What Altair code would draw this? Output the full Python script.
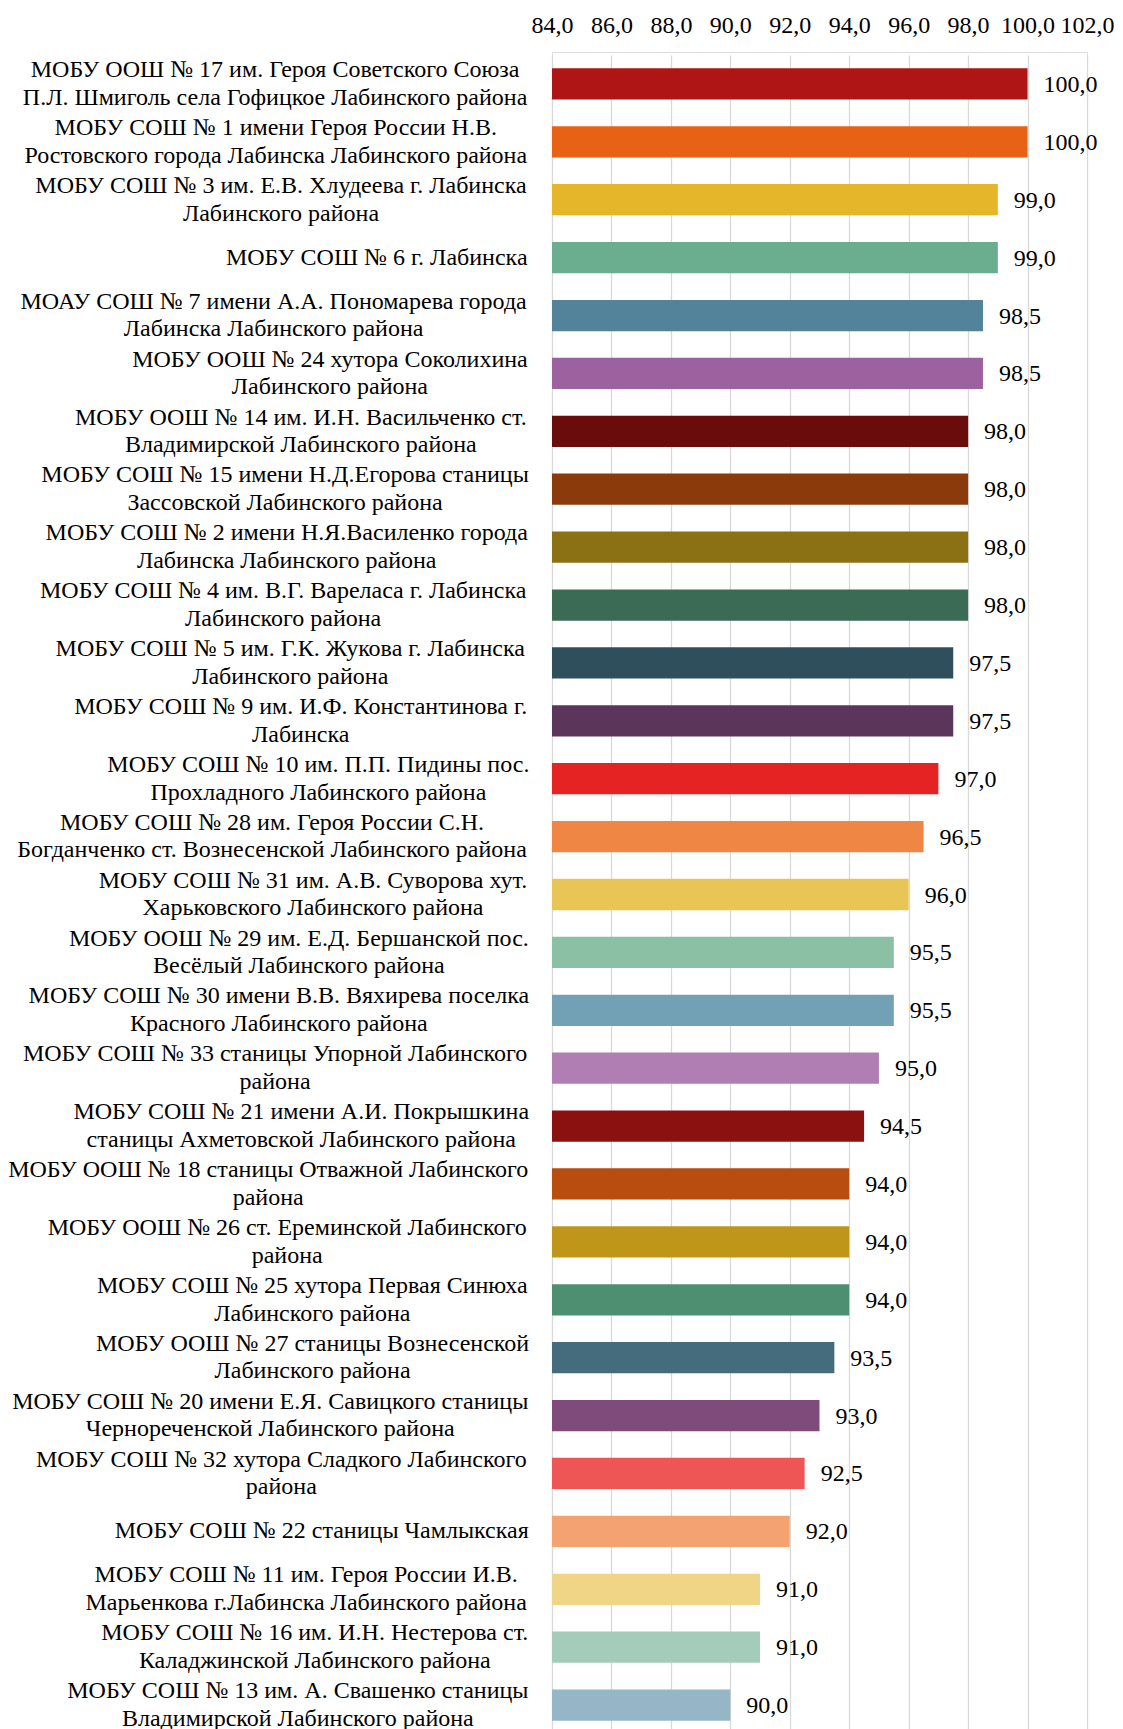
import altair as alt
import pandas as pd

labels = [
    "МОБУ ООШ № 17 им. Героя Советского Союза\nП.Л. Шмиголь села Гофицкое Лабинского района",
    "МОБУ СОШ № 1 имени Героя России Н.В.\nРостовского города Лабинска Лабинского района",
    "МОБУ СОШ № 3 им. Е.В. Хлудеева г. Лабинска\nЛабинского района",
    "МОБУ СОШ № 6 г. Лабинска",
    "МОАУ СОШ № 7 имени А.А. Пономарева города\nЛабинска Лабинского района",
    "МОБУ ООШ № 24 хутора Соколихина\nЛабинского района",
    "МОБУ ООШ № 14 им. И.Н. Васильченко ст.\nВладимирской Лабинского района",
    "МОБУ СОШ № 15 имени Н.Д.Егорова станицы\nЗассовской Лабинского района",
    "МОБУ СОШ № 2 имени Н.Я.Василенко города\nЛабинска Лабинского района",
    "МОБУ СОШ № 4 им. В.Г. Вареласа г. Лабинска\nЛабинского района",
    "МОБУ СОШ № 5 им. Г.К. Жукова г. Лабинска\nЛабинского района",
    "МОБУ СОШ № 9 им. И.Ф. Константинова г.\nЛабинска",
    "МОБУ СОШ № 10 им. П.П. Пидины пос.\nПрохладного Лабинского района",
    "МОБУ СОШ № 28 им. Героя России С.Н.\nБогданченко ст. Вознесенской Лабинского района",
    "МОБУ СОШ № 31 им. А.В. Суворова хут.\nХарьковского Лабинского района",
    "МОБУ ООШ № 29 им. Е.Д. Бершанской пос.\nВесёлый Лабинского района",
    "МОБУ СОШ № 30 имени В.В. Вяхирева поселка\nКрасного Лабинского района",
    "МОБУ СОШ № 33 станицы Упорной Лабинского\nрайона",
    "МОБУ СОШ № 21 имени А.И. Покрышкина\nстаницы Ахметовской Лабинского района",
    "МОБУ ООШ № 18 станицы Отважной Лабинского\nрайона",
    "МОБУ ООШ № 26 ст. Ереминской Лабинского\nрайона",
    "МОБУ СОШ № 25 хутора Первая Синюха\nЛабинского района",
    "МОБУ ООШ № 27 станицы Вознесенской\nЛабинского района",
    "МОБУ СОШ № 20 имени Е.Я. Савицкого станицы\nЧернореченской Лабинского района",
    "МОБУ СОШ № 32 хутора Сладкого Лабинского\nрайона",
    "МОБУ СОШ № 22 станицы Чамлыкская",
    "МОБУ СОШ № 11 им. Героя России И.В.\nМарьенкова г.Лабинска Лабинского района",
    "МОБУ СОШ № 16 им. И.Н. Нестерова ст.\nКаладжинской Лабинского района",
    "МОБУ СОШ № 13 им. А. Свашенко станицы\nВладимирской Лабинского района",
]

values = [100.0, 100.0, 99.0, 99.0, 98.5, 98.5, 98.0, 98.0, 98.0, 98.0,
          97.5, 97.5, 97.0, 96.5, 96.0, 95.5, 95.5, 95.0, 94.5, 94.0,
          94.0, 94.0, 93.5, 93.0, 92.5, 92.0, 91.0, 91.0, 90.0]

colors = ["#AF1515", "#E86215", "#E5B62A", "#6AAD8F", "#53839A", "#9C62A0",
          "#6A0C0C", "#8B3A0B", "#8B7113", "#3B6B55", "#2F4F5C", "#5C365A",
          "#E52323", "#EF8644", "#E9C555", "#8BC0A5", "#72A1B6", "#B07EB2",
          "#8B1111", "#B94D10", "#C0961A", "#4F8F71", "#456C7C", "#7F4B7B",
          "#EE5656", "#F3A270", "#EFD585", "#A5CCBA", "#95B6C6"]

ticks = [84, 86, 88, 90, 92, 94, 96, 98, 100, 102]

FONT = "Liberation Serif"
FS = 24
LINE_H = 27.6
PLOT_W = 535
VIEW_H = 1677
LABEL_GAP = 22

# approximate Times/Liberation Serif advance widths (1/1000 em) for centring lines
_W = {
    " ": 250, ".": 250, ",": 250, "№": 1000, "-": 333,
    "А": 722, "Б": 574, "В": 667, "Г": 578, "Д": 682, "Е": 611, "Ё": 611, "Ж": 896,
    "З": 501, "И": 722, "Й": 722, "К": 667, "Л": 678, "М": 889, "Н": 722, "О": 722,
    "П": 722, "Р": 556, "С": 667, "Т": 611, "У": 708, "Ф": 790, "Х": 722, "Ц": 722,
    "Ч": 650, "Ш": 1004, "Щ": 1004, "Ъ": 722, "Ы": 888, "Ь": 574, "Э": 667, "Ю": 1014,
    "Я": 667,
    "а": 444, "б": 509, "в": 472, "г": 410, "д": 509, "е": 444, "ё": 444, "ж": 691,
    "з": 395, "и": 535, "й": 535, "к": 486, "л": 499, "м": 633, "н": 535, "о": 500,
    "п": 535, "р": 500, "с": 444, "т": 437, "у": 500, "ф": 648, "х": 500, "ц": 535,
    "ч": 503, "ш": 770, "щ": 770, "ъ": 517, "ы": 672, "ь": 456, "э": 429, "ю": 747,
    "я": 460,
}


def text_w(s):
    return sum(_W.get(c, 500) for c in s) * FS / 1000.0


n = len(labels)
px_per_unit = PLOT_W / (ticks[-1] - ticks[0])
half_w = [max(text_w(l) for l in lab.split("\n")) / 2 for lab in labels]
keys = [f"k{i:02d}" for i in range(n)]

df = pd.DataFrame({
    "key": keys,
    "label": labels,
    "nlines": [lab.count("\n") + 1 for lab in labels],
    "value": values,
    "base": [ticks[0]] * n,
    "color": colors,
    "vtext": [f"{v:.1f}".replace(".", ",") for v in values],
    "lx": [ticks[0] - (LABEL_GAP + h) / px_per_unit for h in half_w],
})

xscale = alt.Scale(domain=[ticks[0], ticks[-1]], nice=False, zero=False)
yscale = alt.Scale(domain=keys, range=[3, 1682], paddingInner=0.46, paddingOuter=0.23)

base = alt.Chart(df)

bars = base.mark_bar().encode(
    x=alt.X("base:Q", scale=xscale,
            axis=alt.Axis(orient="top", values=ticks, title=None,
                          labelExpr="replace(format(datum.value, '.1f'), '.', ',')",
                          labelFont=FONT, labelFontSize=FS, labelColor="#000000",
                          labelPadding=15, ticks=False, domain=False,
                          labelFlush=False, labelBound=False,
                          grid=True, gridColor="#D9D9D9", gridWidth=1.3,
                          labelOverlap=False)),
    x2="value:Q",
    y=alt.Y("key:N", scale=yscale, axis=None),
    color=alt.Color("color:N", scale=None),
)

vlabels = base.mark_text(align="left", baseline="middle", dx=16, dy=1,
                         font=FONT, fontSize=FS, color="#000000").encode(
    x=alt.X("value:Q", scale=xscale),
    y=alt.Y("key:N", scale=yscale),
    text="vtext:N",
)


def cat_layer(nl):
    return base.transform_filter(alt.datum.nlines == nl).mark_text(
        align="center", baseline="middle", lineBreak="\n",
        lineHeight=LINE_H, dy=-(nl - 1) * LINE_H / 2,
        font=FONT, fontSize=FS, color="#000000").encode(
        x=alt.X("lx:Q", scale=xscale),
        y=alt.Y("key:N", scale=yscale),
        text="label:N",
    )


chart = alt.layer(bars, vlabels, cat_layer(1), cat_layer(2)).properties(
    width=PLOT_W,
    height=VIEW_H,
    autosize=alt.AutoSizeParams(type="none"),
    padding={"left": 544, "top": 44, "right": 27, "bottom": 0},
).configure_view(strokeWidth=0).configure(background="white")

chart.save("out.html", embed_options={"renderer": "svg", "actions": False})
